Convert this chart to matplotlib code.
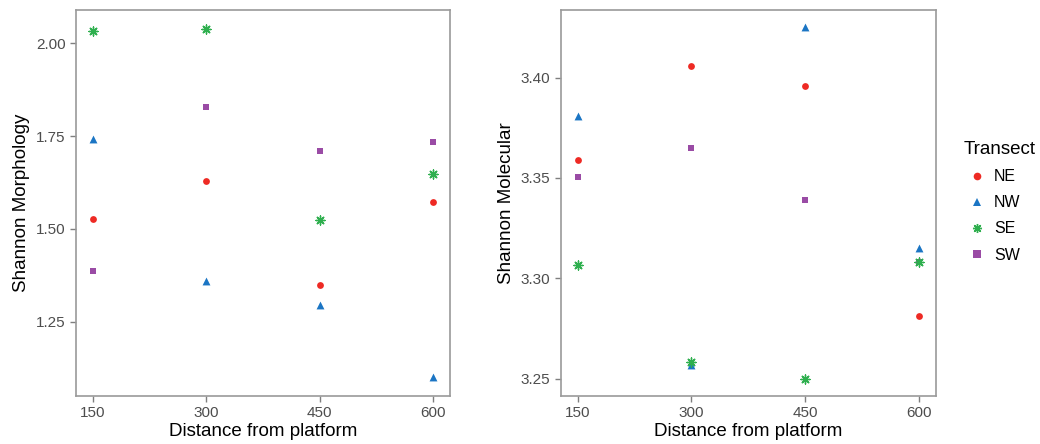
import numpy as np
import matplotlib
matplotlib.use("Agg")
import matplotlib.pyplot as plt
from matplotlib.lines import Line2D

plt.rcParams['font.family'] = ['Liberation Sans', 'DejaVu Sans']

distance = [150, 300, 450, 600]
transects = ["NE", "NW", "SE", "SW"]

# Shannon morphology per transect
morph_ne = [1.528, 1.628, 1.349, 1.572]
morph_nw = [1.742, 1.361, 1.295, 1.101]
morph_se = [2.034, 2.040, 1.524, 1.647]
morph_sw = [1.387, 1.829, 1.710, 1.735]

# Shannon molecular per transect
mol_ne = [3.359, 3.406, 3.396, 3.281]
mol_nw = [3.381, 3.257, 3.425, 3.315]
mol_se = [3.3065, 3.258, 3.250, 3.308]
mol_sw = [3.3505, 3.365, 3.339, 3.308]

colors = {"NE": "#EE2A24", "NW": "#1B75C4", "SE": "#2EAF4E", "SW": "#9A4BA5"}
markers = {"NE": "o", "NW": "^", "SE": (8, 2, 0), "SW": "s"}
sizes = {"NE": 24, "NW": 32, "SE": 42, "SW": 24}
draw_order = ["NE", "NW", "SW", "SE"]

fig = plt.figure(figsize=(10.4, 4.44), dpi=100)
ax1 = fig.add_axes([0.0731, 0.1081, 0.3596, 0.8694])
ax2 = fig.add_axes([0.5391, 0.1081, 0.3609, 0.8694])

morph = {"NE": morph_ne, "NW": morph_nw, "SE": morph_se, "SW": morph_sw}
mol = {"NE": mol_ne, "NW": mol_nw, "SE": mol_se, "SW": mol_sw}


def draw_panel(ax, data, ylabel, yticks, ylim):
    for t in draw_order:
        if t == "SE":
            ax.scatter(distance, data[t], marker=markers[t], s=sizes[t],
                       color=colors[t], linewidths=1.0, zorder=3)
        else:
            ax.scatter(distance, data[t], marker=markers[t], s=sizes[t],
                       color=colors[t], linewidths=0, zorder=3)
    ax.set_xlim(127.5, 622.5)
    ax.set_ylim(*ylim)
    ax.set_xticks(distance)
    ax.set_yticks(yticks)
    ax.set_yticklabels([f"{v:.2f}" for v in yticks])
    ax.tick_params(axis='both', colors="#7f7f7f", labelcolor="#4D4D4D",
                   labelsize=11, length=4, width=1)
    for s in ax.spines.values():
        s.set_color("#9a9a9a")
        s.set_linewidth(1.2)
    ax.set_xlabel("Distance from platform", fontsize=13.5, labelpad=2)
    ax.set_ylabel(ylabel, fontsize=13.5, labelpad=4)


draw_panel(ax1, morph, "Shannon Morphology", [1.25, 1.50, 1.75, 2.00], (1.050, 2.090))
draw_panel(ax2, mol, "Shannon Molecular", [3.25, 3.30, 3.35, 3.40], (3.2413, 3.4337))

handles = []
for t in transects:
    if t == "SE":
        handles.append(Line2D([], [], linestyle='none', marker=markers[t],
                              color=colors[t], markersize=6.5, markeredgewidth=1.0))
    else:
        handles.append(Line2D([], [], linestyle='none', marker=markers[t],
                              color=colors[t], markersize=5.5, markeredgewidth=0))
leg = fig.legend(handles, transects, title="Transect", loc="upper left",
                 bbox_to_anchor=(0.913, 0.715), frameon=False, fontsize=11.5,
                 title_fontsize=13.5, handlelength=1.6, handletextpad=0.3,
                 labelspacing=0.7)
leg._legend_box.align = "left"

fig.savefig("out.png", dpi=100)
